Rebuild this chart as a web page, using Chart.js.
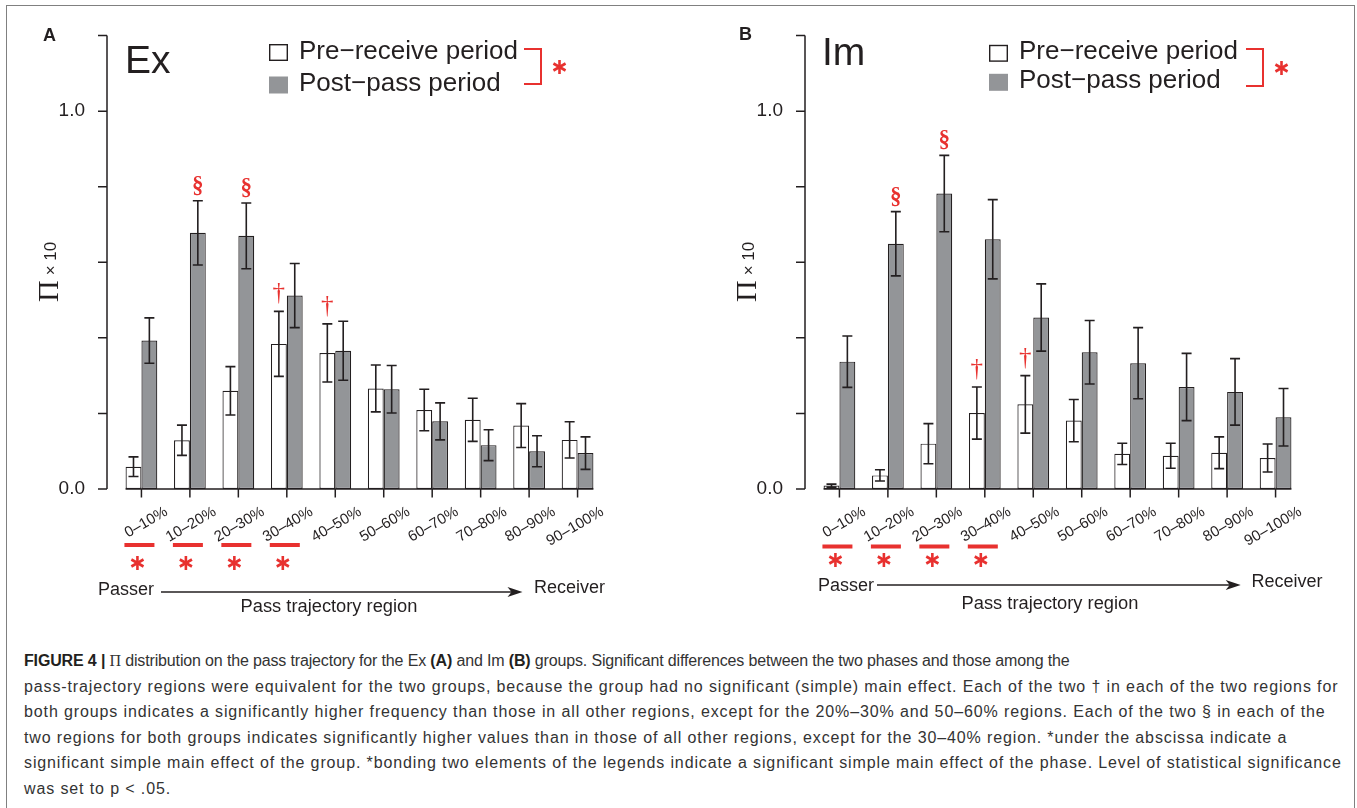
<!DOCTYPE html>
<html lang="en">
<head>
  <meta charset="UTF-8" />
  <title>Figure 4 – Π distribution on the pass trajectory</title>
  <script src="https://cdn.jsdelivr.net/npm/chart.js"></script>
  <style>
    html, body {
      margin: 0;
      padding: 0;
      background: #fff;
    }

    body {
      width: 1357px;
      height: 808px;
      position: relative;
      overflow: hidden;
      font-family: 'Liberation Sans', Arial, sans-serif;
    }

    .frame {
      position: absolute;
      left: 6px;
      top: 5px;
      width: 1347px;
      height: 900px;
      border: 1.5px solid #808080;
    }

    canvas {
      position: absolute;
      top: 0;
    }

    #chartEx { left: 0; }
    #chartIm { left: 698px; }

    .caption {
      position: absolute;
      left: 24px;
      top: 648px;
      font-size: 16px;
      line-height: 25.6px;
      color: #333;
      white-space: nowrap;
      letter-spacing: 0.88px;
    }

    .caption .first { letter-spacing: -0.15px; }
    .caption b { color: #231f20; }
    .pi { font-family: 'Liberation Serif', serif; }
  </style>
</head>
<body>
  <div class="frame"></div>
  <canvas id="chartEx" width="680" height="630"></canvas>
  <canvas id="chartIm" width="659" height="630"></canvas>

  <div class="caption">
    <div class="first"><b>FIGURE 4 |</b> <span class="pi">Π</span> distribution on the pass trajectory for the Ex <b>(A)</b> and Im <b>(B)</b> groups. Significant differences between the two phases and those among the</div>
    <div>pass-trajectory regions were equivalent for the two groups, because the group had no significant (simple) main effect. Each of the two † in each of the two regions for</div>
    <div>both groups indicates a significantly higher frequency than those in all other regions, except for the 20%–30% and 50–60% regions. Each of the two § in each of the</div>
    <div>two regions for both groups indicates significantly higher values than in those of all other regions, except for the 30–40% region. *under the abscissa indicate a</div>
    <div>significant simple main effect of the group. *bonding two elements of the legends indicate a significant simple main effect of the phase. Level of statistical significance</div>
    <div>was set to p &lt; .05.</div>
  </div>

  <script>
    // ---- data ----
    const regions = ['0–10%', '10–20%', '20–30%', '30–40%', '40–50%', '50–60%', '60–70%', '70–80%', '80–90%', '90–100%'];
    const seriesNames = ['Pre−receive period', 'Post−pass period'];

    // Ex group, panel A
    const exPre     = [0.059, 0.129, 0.260, 0.384, 0.360, 0.266, 0.209, 0.183, 0.168, 0.130];
    const exPreErr  = [0.026, 0.040, 0.064, 0.086, 0.077, 0.062, 0.055, 0.057, 0.058, 0.048];
    const exPost    = [0.393, 0.678, 0.670, 0.512, 0.366, 0.264, 0.179, 0.116, 0.100, 0.095];
    const exPostErr = [0.060, 0.085, 0.087, 0.085, 0.078, 0.063, 0.049, 0.041, 0.041, 0.043];

    // Im group, panel B
    const imPre     = [0.009, 0.036, 0.120, 0.201, 0.224, 0.181, 0.093, 0.088, 0.096, 0.082];
    const imPreErr  = [0.004, 0.015, 0.053, 0.069, 0.076, 0.056, 0.028, 0.033, 0.042, 0.037];
    const imPost    = [0.337, 0.649, 0.782, 0.661, 0.454, 0.362, 0.333, 0.270, 0.257, 0.190];
    const imPostErr = [0.068, 0.085, 0.101, 0.105, 0.089, 0.084, 0.094, 0.089, 0.088, 0.076];

    // y axis
    const yMax = 1.2;
    const yStep = 0.2;
    const yLabelled = [0, 1];

    // significance marks
    const exSection = ['10–20%', '20–30%'];   // § over post-pass bars
    const exDagger  = ['30–40%', '40–50%'];   // † over pre-receive bars
    const imSection = ['10–20%', '20–30%'];
    const imDagger  = ['30–40%', '40–50%'];
    const exGroupStar = ['0–10%', '10–20%', '20–30%', '30–40%'];
    const imGroupStar = ['0–10%', '10–20%', '20–30%', '30–40%'];

    // ---- styling ----
    const INK = '#231f20';
    const RED = '#e8312f';
    const GREY = '#939598';
    const SANS = "'Liberation Sans', Arial, sans-serif";
    const SERIF = "'Liberation Serif', 'Times New Roman', serif";

    function text(ctx, str, x, y, font, color, align) {
      ctx.font = font;
      ctx.fillStyle = color;
      ctx.textAlign = align || 'left';
      ctx.textBaseline = 'alphabetic';
      ctx.fillText(str, x, y);
    }

    function asterisk(ctx, cx, cy, r) {
      ctx.save();
      ctx.strokeStyle = RED;
      ctx.lineWidth = 2.6;
      ctx.lineCap = 'butt';
      [90, 30, 150].forEach(deg => {
        const a = deg * Math.PI / 180;
        ctx.beginPath();
        ctx.moveTo(cx - r * Math.cos(a), cy - r * Math.sin(a));
        ctx.lineTo(cx + r * Math.cos(a), cy + r * Math.sin(a));
        ctx.stroke();
      });
      ctx.restore();
    }

    function decor(p) {
      return {
        id: 'decor',
        afterDatasetsDraw(chart) {
          const { ctx, chartArea: area, scales: { x, y } } = chart;
          const pre = chart.getDatasetMeta(0).data;
          const post = chart.getDatasetMeta(1).data;
          const base = y.getPixelForValue(0);

          ctx.save();
          ctx.strokeStyle = INK;
          ctx.lineWidth = 1.5;

          // y axis with outward ticks, set off from the bars
          const ax = area.left - 10.2;
          ctx.beginPath();
          ctx.moveTo(ax, y.getPixelForValue(yMax));
          ctx.lineTo(ax, base);
          y.ticks.forEach(t => {
            const py = y.getPixelForValue(t.value);
            ctx.moveTo(ax - 9, py);
            ctx.lineTo(ax, py);
          });
          ctx.stroke();

          // x axis under the bars, ticks at each region
          const last = post[post.length - 1];
          ctx.beginPath();
          ctx.moveTo(pre[0].x - pre[0].width / 2, base);
          ctx.lineTo(last.x + last.width / 2, base);
          regions.forEach((r, i) => {
            const px = x.getPixelForTick(i);
            ctx.moveTo(px, base);
            ctx.lineTo(px, base + 8.5);
          });
          ctx.stroke();

          // error bars
          ctx.lineWidth = 1.6;
          chart.data.datasets.forEach((ds, k) => {
            chart.getDatasetMeta(k).data.forEach((bar, i) => {
              const top = y.getPixelForValue(ds.data[i] + ds.err[i]);
              const bot = y.getPixelForValue(Math.max(ds.data[i] - ds.err[i], 0));
              ctx.beginPath();
              ctx.moveTo(bar.x, top);
              ctx.lineTo(bar.x, bot);
              ctx.moveTo(bar.x - 5, top);
              ctx.lineTo(bar.x + 5, top);
              ctx.moveTo(bar.x - 5, bot);
              ctx.lineTo(bar.x + 5, bot);
              ctx.stroke();
            });
          });

          // § and † above the error bars
          const mark = (list, k, glyph, font, gap) => {
            const ds = chart.data.datasets[k];
            list.forEach(r => {
              const i = regions.indexOf(r);
              const bar = chart.getDatasetMeta(k).data[i];
              const top = y.getPixelForValue(ds.data[i] + ds.err[i]);
              text(ctx, glyph, bar.x, top - gap, font, RED, 'center');
            });
          };
          mark(p.section, 1, '§', 'bold 23px ' + SERIF, 9);
          mark(p.dagger, 0, '†', '25px ' + SERIF, 11);

          // group effect: red bar + asterisk under the region labels
          ctx.fillStyle = RED;
          p.groupStar.forEach(r => {
            const cx = x.getPixelForTick(regions.indexOf(r)) - 2;
            ctx.fillRect(cx - 15, p.underlineY - 2, 30, 4);
            asterisk(ctx, cx - 2, p.starY, 7);
          });

          // panel letter, group name
          text(ctx, p.letter, p.letterX, p.letterY, 'bold 18px ' + SANS, INK);
          text(ctx, p.title, p.titleX, p.titleY, '39px ' + SANS, INK);

          // y title (rotated)
          ctx.save();
          ctx.translate(ax - 49, 302);
          ctx.rotate(-Math.PI / 2);
          text(ctx, 'Π', 0, 0, '30px ' + SERIF, INK);
          const piW = ctx.measureText('Π').width;
          text(ctx, '× 10', piW + 5, -2, '17px ' + SANS, INK);
          ctx.restore();

          // legend
          chart.data.datasets.forEach((ds, k) => {
            const cy = p.legendRows[k];
            ctx.fillStyle = ds.backgroundColor;
            ctx.fillRect(p.legendX, cy - 8.5, 19, 17);
            if (k === 0) {
              ctx.lineWidth = 1.4;
              ctx.strokeStyle = INK;
              ctx.strokeRect(p.legendX + 0.7, cy - 7.8, 17.6, 15.6);
            }
            text(ctx, ds.label, p.legendX + 30, cy + 6, '26px ' + SANS, INK);
          });

          // bracket + asterisk tying the two legend entries
          ctx.strokeStyle = RED;
          ctx.lineWidth = 2;
          ctx.beginPath();
          ctx.moveTo(p.bracketX, p.bracketTop);
          ctx.lineTo(p.bracketX + 17, p.bracketTop);
          ctx.lineTo(p.bracketX + 17, p.bracketBottom);
          ctx.lineTo(p.bracketX, p.bracketBottom);
          ctx.stroke();
          asterisk(ctx, p.bracketX + 35.5, (p.bracketTop + p.bracketBottom) / 2 + 0.5, 7);

          // Passer -> Receiver arrow
          const b = p.bottom;
          text(ctx, 'Passer', b.passerX, b.passerY, '18px ' + SANS, INK);
          text(ctx, 'Receiver', b.receiverX, b.receiverY, '18px ' + SANS, INK);
          text(ctx, 'Pass trajectory region', b.titleX, b.titleY, '18.3px ' + SANS, INK, 'center');
          ctx.strokeStyle = INK;
          ctx.lineWidth = 1.5;
          ctx.beginPath();
          ctx.moveTo(b.arrowFrom, b.arrowY);
          ctx.lineTo(b.arrowTo - 10, b.arrowY);
          ctx.stroke();
          ctx.fillStyle = INK;
          ctx.beginPath();
          ctx.moveTo(b.arrowTo, b.arrowY);
          ctx.lineTo(b.arrowTo - 15, b.arrowY - 5);
          ctx.lineTo(b.arrowTo - 11, b.arrowY);
          ctx.lineTo(b.arrowTo - 15, b.arrowY + 5);
          ctx.closePath();
          ctx.fill();

          ctx.restore();
        }
      };
    }

    function makeChart(id, pre, preErr, post, postErr, p) {
      const canvas = document.getElementById(id);
      return new Chart(canvas, {
        type: 'bar',
        data: {
          labels: regions,
          datasets: [
            { label: seriesNames[0], data: pre, err: preErr, backgroundColor: '#ffffff',
              borderColor: INK, borderWidth: 1.2, borderSkipped: false },
            { label: seriesNames[1], data: post, err: postErr, backgroundColor: GREY,
              borderColor: INK, borderWidth: 1.2, borderSkipped: false }
          ]
        },
        options: {
          responsive: false,
          animation: false,
          events: [],
          datasets: { bar: { categoryPercentage: 0.655, barPercentage: 1 } },
          layout: { padding: { left: 0, top: 35, right: canvas.width - 601.8, bottom: 81 } },
          plugins: { legend: { display: false }, tooltip: { enabled: false } },
          scales: {
            x: {
              grid: { display: false },
              border: { display: false },
              ticks: {
                autoSkip: false, minRotation: 30, maxRotation: 30,
                labelOffset: 25, padding: 6, color: INK,
                font: { family: SANS, size: 15 }
              },
              afterFit: s => { s.height = 60; }
            },
            y: {
              min: 0,
              max: yMax,
              grid: { display: false },
              border: { display: false },
              ticks: {
                stepSize: yStep, padding: 24.2, color: INK,
                font: { family: SANS, size: 19 },
                callback: v => yLabelled.some(t => Math.abs(t - v) < 1e-9) ? v.toFixed(1) : ''
              },
              afterFit: s => { s.width = 117.2; }
            }
          }
        },
        plugins: [decor(p)]
      });
    }

    makeChart('chartEx', exPre, exPreErr, exPost, exPostErr, {
      letter: 'A', letterX: 43, letterY: 41,
      title: 'Ex', titleX: 125, titleY: 73,
      section: exSection, dagger: exDagger, groupStar: exGroupStar,
      underlineY: 545, starY: 563,
      legendX: 269, legendRows: [52.5, 85],
      bracketX: 524, bracketTop: 49, bracketBottom: 84,
      bottom: { passerX: 98, passerY: 595, receiverX: 534, receiverY: 592.5,
                arrowFrom: 161, arrowTo: 522.5, arrowY: 592,
                titleX: 329, titleY: 612 }
    });

    makeChart('chartIm', imPre, imPreErr, imPost, imPostErr, {
      letter: 'B', letterX: 41, letterY: 40,
      title: 'Im', titleX: 124, titleY: 65,
      section: imSection, dagger: imDagger, groupStar: imGroupStar,
      underlineY: 546.5, starY: 560,
      legendX: 291, legendRows: [53.3, 82.3],
      bracketX: 548, bracketTop: 49, bracketBottom: 86,
      bottom: { passerX: 120, passerY: 590.5, receiverX: 553.5, receiverY: 586.5,
                arrowFrom: 179, arrowTo: 542.7, arrowY: 585,
                titleX: 352, titleY: 609 }
    });
  </script>
</body>
</html>
